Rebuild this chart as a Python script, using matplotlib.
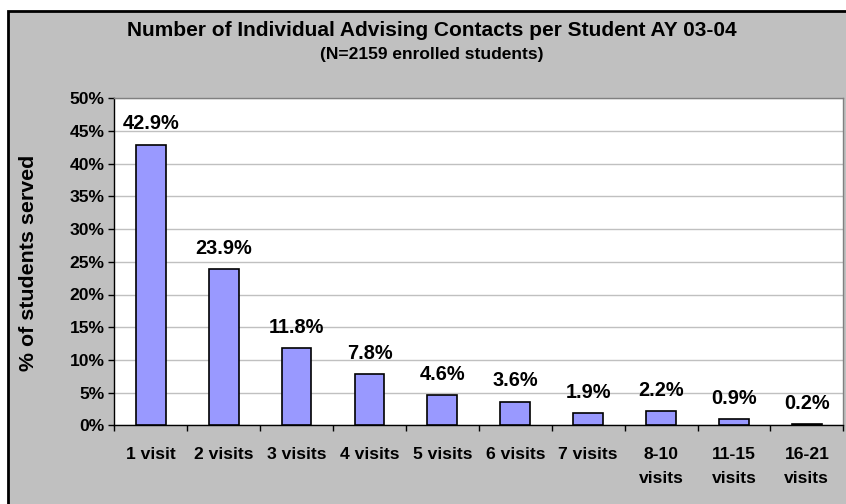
import matplotlib
matplotlib.use("Agg")
import matplotlib.pyplot as plt
from matplotlib.patches import Rectangle
import numpy as np

categories = ["1 visit", "2 visits", "3 visits", "4 visits", "5 visits", "6 visits",
              "7 visits", "8-10\nvisits", "11-15\nvisits", "16-21\nvisits"]
values = [42.9, 23.9, 11.8, 7.8, 4.6, 3.6, 1.9, 2.2, 0.9, 0.2]
value_labels = ["42.9%", "23.9%", "11.8%", "7.8%", "4.6%", "3.6%", "1.9%", "2.2%", "0.9%", "0.2%"]
yticks = [0, 5, 10, 15, 20, 25, 30, 35, 40, 45, 50]

plt.rcParams['font.family'] = ['Liberation Sans', 'DejaVu Sans']

W, H = 846, 504
fig = plt.figure(figsize=(W/100, H/100), dpi=100, facecolor='white')

# chart area background with border
fig.patches.append(Rectangle((7.5/W, -0.1), 1, 1.1 - 11.5/H, transform=fig.transFigure,
                             facecolor='#C0C0C0', edgecolor='black', linewidth=2, zorder=-10))

left, right, top, bottom = 114.3, 843.3, 98.3, 425.3
ax = fig.add_axes([left/W, 1 - bottom/H, (right-left)/W, (bottom-top)/H])
ax.set_facecolor('white')

x = np.arange(len(categories))
ax.bar(x, values, width=0.41, color='#9999FF', edgecolor='black', linewidth=1.2, zorder=3)

for xi, v, lab in zip(x, values, value_labels):
    ax.annotate(lab, (xi, v), xytext=(0, 11), textcoords='offset points',
                ha='center', va='baseline', fontsize=14.4, fontweight='bold', zorder=4)

ax.set_xlim(-0.5, len(categories) - 0.5)
ax.set_ylim(0, 50)
ax.set_yticks(yticks)
ax.set_yticklabels([f"{t}%" for t in yticks], fontsize=12.6, fontweight='bold')
ax.yaxis.grid(True, color='#C0C0C0', linewidth=1, zorder=0)
ax.set_axisbelow(True)

ax.set_xticks(x)
ax.set_xticklabels(categories, fontsize=12.6, fontweight='bold', linespacing=1.8, va='top')
ax.tick_params(axis='x', which='major', length=0, pad=15.5)
ax.set_xticks(np.arange(-0.5, len(categories)), minor=True)
ax.tick_params(axis='x', which='minor', length=4, direction='out', color='black', width=1)
ax.tick_params(axis='y', length=4, direction='out', color='black', width=1, pad=3)

for s in ['top', 'right']:
    ax.spines[s].set_color('#808080')
    ax.spines[s].set_linewidth(1)
for s in ['left', 'bottom']:
    ax.spines[s].set_color('black')
    ax.spines[s].set_linewidth(1)

fig.text(29/W, 1 - 262.5/H, "% of students served", rotation=90, ha='center', va='center',
         fontsize=15.4, fontweight='bold')
fig.text(432/W, 1 - 31/H, "Number of Individual Advising Contacts per Student AY 03-04",
         ha='center', va='center', fontsize=15, fontweight='bold')
fig.text(432/W, 1 - 55/H, "(N=2159 enrolled students)", ha='center', va='center',
         fontsize=12.5, fontweight='bold')

fig.savefig("out.png", dpi=100, facecolor='white')
